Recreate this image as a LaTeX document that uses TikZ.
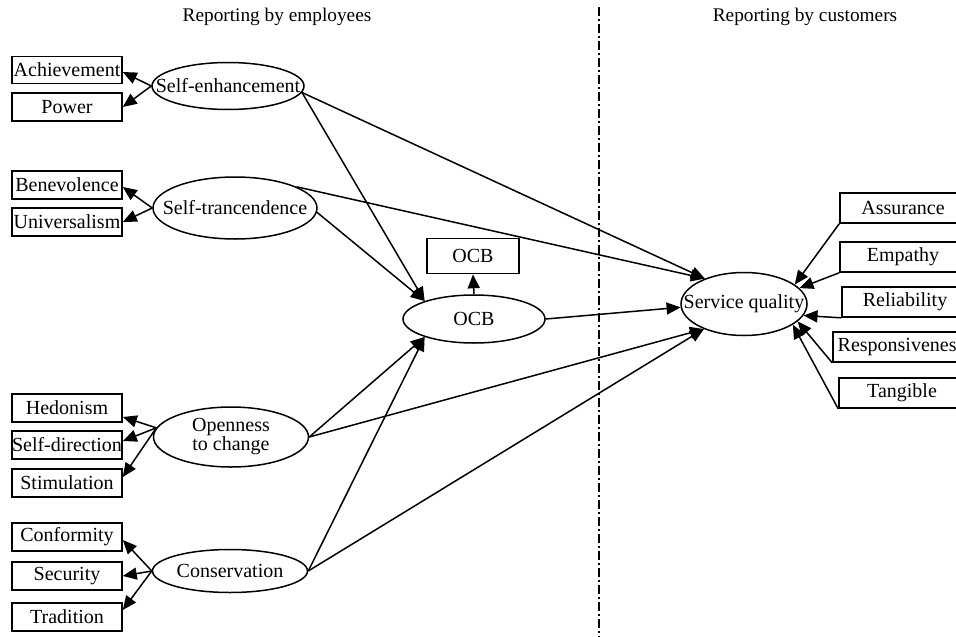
\documentclass[tikz,border=0pt]{standalone}
\usepackage{fontspec}
\setmainfont{Liberation Serif}
\usetikzlibrary{shapes.geometric,arrows.meta,calc}
\newcommand\nf{\fontsize{20}{21}\selectfont}
\newcommand\tf{\fontsize{19.3}{21}\selectfont}
\newcommand\ct[1]{\makebox[0pt]{#1}}
\tikzset{
  box/.style={draw, line width=1.6pt, rectangle, minimum width=110pt, minimum height=28pt, inner sep=0pt, font=\nf},
  rbox/.style={box, minimum width=126pt, minimum height=30pt},
  ell/.style={draw, ellipse, line width=1.5pt, inner sep=0pt, font=\nf},
  arr/.style={line width=1.5pt, -{Triangle[length=14pt,width=12pt]}},
}
\begin{document}
\begin{tikzpicture}[x=1pt,y=-1pt]
\useasboundingbox (0,0) rectangle (956,637);
% titles
\node[font=\tf, inner sep=0pt] (t1) at (277,17) {Reporting by employees};
\node[font=\tf, inner sep=0pt] (t2) at (805,17) {Reporting by customers};
% divider
\coordinate (d1) at (599,7);
\coordinate (d2) at (599,640);
\draw[line width=1.8pt, dash pattern=on 9pt off 3pt on 2pt off 3pt] (d1) -- (d2);
% left boxes
\node[box, minimum height=27pt] (ach) at (67,70) {Achievement};
\node[box] (pow) at (67,107) {Power};
\node[box] (ben) at (67,185) {Benevolence};
\node[box] (uni) at (67,222) {Universalism};
\node[box] (hed) at (67,408) {Hedonism};
\node[box] (sd) at (67,445) {Self-direction};
\node[box] (sti) at (67,483) {Stimulation};
\node[box] (conf) at (67,537) {Conformity};
\node[box] (sec) at (67,576) {Security};
\node[box] (tra) at (67,617) {Tradition};
% ellipses
\node[ell, minimum width=152pt, minimum height=47pt] (se) at (228,86) {\ct{Self-enhancement}};
\node[ell, minimum width=164pt, minimum height=62pt] (st) at (235,208) {\ct{Self-trancendence}};
\node[ell, minimum width=155pt, minimum height=60pt] (op) at (231,437) {\ct{\begin{tabular}{@{}c@{}}Openness\\[-2pt]to change\end{tabular}}};
\node[ell, minimum width=155pt, minimum height=43pt] (cons) at (230,571) {\ct{Conservation}};
\node[ell, minimum width=142pt, minimum height=48pt] (ocb) at (474,319) {\ct{OCB}};
\node[box, minimum width=92pt, minimum height=35pt] (ocbb) at (473,256) {OCB};
\node[ell, minimum width=126pt, minimum height=63pt] (sq) at (744,304) {\ct{Service quality}};
% right boxes
\node[rbox] (ass) at (903,208) {Assurance};
\node[rbox] (emp) at (903,257) {Empathy};
\node[rbox] (rel) at (905,302) {Reliability};
\node[rbox, minimum width=136pt] (resp) at (901,347) {Responsiveness};
\node[rbox] (tan) at (902,393) {Tangible};
% left arrows
\draw[arr] (se.west) -- ($(ach.east)+(0,2)$);
\draw[arr] (se.west) -- (pow.east);
\draw[arr] (st.west) -- ($(ben.east)+(0,2)$);
\draw[arr] (st.west) -- (uni.east);
\draw[arr] (op.173) -- ($(hed.east)+(0,9)$);
\draw[arr] (op.173) -- ($(sd.east)+(0,-4)$);
\draw[arr] (op.173) -- ($(sti.east)+(0,-6)$);
\draw[arr] (cons.west) -- ($(conf.east)+(0,3)$);
\draw[arr] (cons.west) -- (sec.east);
\draw[arr] (cons.west) -- ($(tra.east)+(0,-7)$);
% to OCB
\draw[arr] (se.-5) -- (ocb.160);
\draw[arr] (st.-3) -- (ocb.160);
\draw[arr] (op.east) -- (ocb.200);
\draw[arr] (cons.east) -- (ocb.200);
\draw[arr] (ocb.north) -- (ocbb.south);
% to service quality
\draw[arr] (se.-5) -- (sq.147);
\draw[arr] (st.19) -- (sq.147);
\draw[arr] (ocb.east) -- (sq.183);
\draw[arr] (op.east) -- (sq.212);
\draw[arr] (cons.east) -- (sq.212);
% right arrows
\draw[arr] (ass.south west) -- (sq.21);
\draw[arr] (emp.south west) -- (sq.16);
\draw[arr] (rel.south west) -- (sq.-11);
\draw[arr] (resp.south west) -- (sq.-18);
\draw[arr] (tan.south west) -- (sq.-23);
\end{tikzpicture}
\end{document}
